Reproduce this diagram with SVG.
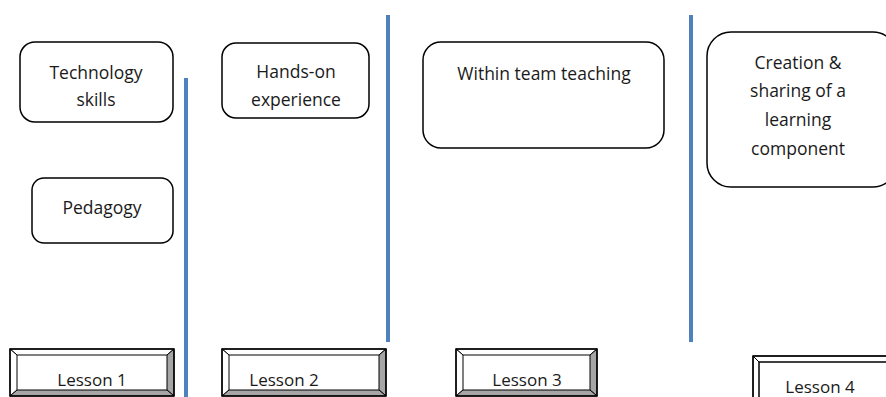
<svg xmlns="http://www.w3.org/2000/svg" width="886" height="397" viewBox="0 0 886 397">
<style>
.box{fill:#fff;stroke:#000;stroke-width:1.5}
.t{font-family:"Open Sans","Liberation Sans",sans-serif;font-size:17.5px;fill:#1a1a1a;text-anchor:middle}
.l{font-size:17px}
.div{stroke:#4f81bd;stroke-width:4}
.lt{fill:#fff;stroke:#000;stroke-width:1}
.dk{fill:#a6a6a6;stroke:#000;stroke-width:1}
.frame{fill:none;stroke:#000;stroke-width:1.5}
</style>
<rect width="886" height="397" fill="#fff"/>
<g id="dividers">
<line class="div" x1="186" y1="78" x2="186" y2="397"/>
<line class="div" x1="388" y1="15" x2="388" y2="342"/>
<line class="div" x1="691" y1="15" x2="691" y2="342"/>
</g>
<g id="tech"><rect class="box" x="20" y="42" width="153" height="80" rx="15"/><text class="t" x="96" y="79">Technology</text><text class="t" x="96" y="106">skills</text></g>
<g id="pedagogy"><rect class="box" x="32" y="178" width="141" height="65" rx="12"/><text class="t" x="102" y="214">Pedagogy</text></g>
<g id="handson"><rect class="box" x="222" y="43" width="147" height="75" rx="14"/><text class="t" x="296" y="78">Hands-on</text><text class="t" x="296" y="106">experience</text></g>
<g id="team"><rect class="box" x="423" y="42" width="241" height="106" rx="18"/><text class="t" x="544" y="80">Within team teaching</text></g>
<g id="creation"><rect class="box" x="707" y="32" width="190" height="155" rx="24"/><text class="t" x="798" y="69">Creation &amp;</text><text class="t" x="798" y="97">sharing of a</text><text class="t" x="798" y="126">learning</text><text class="t" x="798" y="155">component</text></g>
<g id="lesson1">
<polygon class="lt" points="10,349 174,349 167,355 17,355"/>
<polygon class="lt" points="10,349 17,355 17,390 10,396"/>
<polygon class="dk" points="174,349 174,396 167,390 167,355"/>
<polygon class="dk" points="10,396 174,396 167,390 17,390"/>
<rect class="frame" x="10" y="349" width="164" height="47"/>
<text class="t l" x="92" y="386">Lesson 1</text>
</g>
<g id="lesson2">
<polygon class="lt" points="222,349 386,349 379,355 229,355"/>
<polygon class="lt" points="222,349 229,355 229,390 222,396"/>
<polygon class="dk" points="386,349 386,396 379,390 379,355"/>
<polygon class="dk" points="222,396 386,396 379,390 229,390"/>
<rect class="frame" x="222" y="349" width="164" height="47"/>
<text class="t l" x="284" y="386">Lesson 2</text>
</g>
<g id="lesson3">
<polygon class="lt" points="456,349 597,349 590,355 463,355"/>
<polygon class="lt" points="456,349 463,355 463,390 456,396"/>
<polygon class="dk" points="597,349 597,396 590,390 590,355"/>
<polygon class="dk" points="456,396 597,396 590,390 463,390"/>
<rect class="frame" x="456" y="349" width="141" height="47"/>
<text class="t l" x="527" y="386">Lesson 3</text>
</g>
<g id="lesson4">
<polygon class="lt" points="753,356 900,356 893,362 759,362"/>
<polygon class="lt" points="753,356 759,362 759,400 753,400"/>
<rect class="frame" x="753" y="356" width="150" height="50"/>
<line x1="759" y1="362" x2="886" y2="362" stroke="#000" stroke-width="1"/>
<line x1="759" y1="362" x2="759" y2="397" stroke="#000" stroke-width="1"/>
<text class="t l" x="820" y="393">Lesson 4</text>
</g>
</svg>
